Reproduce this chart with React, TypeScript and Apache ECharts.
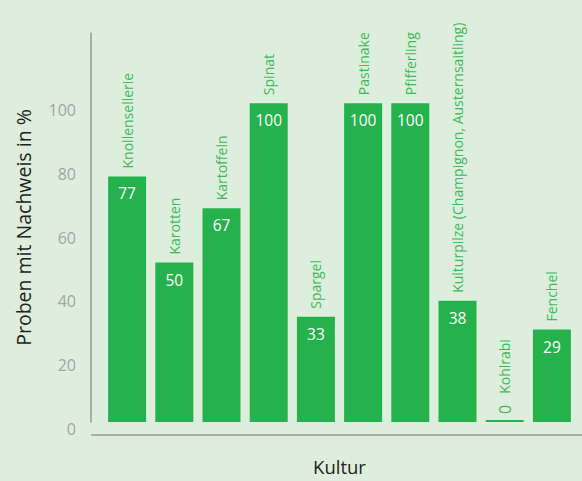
import React, { useEffect, useRef } from "react";
import * as echarts from "echarts";

const categories = [
  "Knollensellerie",
  "Karotten",
  "Kartoffeln",
  "Spinat",
  "Spargel",
  "Pastinake",
  "Pfifferling",
  "Kulturpilze (Champignon, Austernsaitling)",
  "Kohlrabi",
  "Fenchel",
];
const values = [77, 50, 67, 100, 33, 100, 100, 38, 0, 29];
const yTicks = [0, 20, 40, 60, 80, 100];

const FONT = "Open Sans";
const BG = "#deeedc";
const BAR = "#25b24c";
const NAME_GREEN = "#3cba5a";

export default function App() {
  const ref = useRef<HTMLDivElement>(null);
  useEffect(() => {
    if (!ref.current) return;
    const chart = echarts.init(ref.current, undefined, { renderer: "svg" });
    chart.setOption({
      animation: false,
      backgroundColor: BG,
      textStyle: { fontFamily: FONT },
      grid: { left: 103.5, right: 6.5, top: 33, bottom: 58 },
      xAxis: {
        type: "category",
        data: categories,
        axisLine: { show: false },
        axisTick: { show: false },
        axisLabel: { show: false },
        name: "Kultur",
        nameLocation: "middle",
        nameGap: 35,
        nameTextStyle: { fontSize: 18.5, color: "#222", fontFamily: FONT },
      },
      yAxis: {
        type: "value",
        min: 0,
        max: 122,
        interval: 20,
        offset: 12.5,
        axisLine: { show: true, lineStyle: { color: "#999", width: 1.5 } },
        axisTick: { show: false },
        splitLine: { show: false },
        axisLabel: {
          color: "#a0a5a5",
          fontSize: 16,
          margin: 15,
          fontFamily: FONT,
          verticalAlign: "top",
          lineHeight: 14,
          formatter: (v: number) => (yTicks.includes(v) ? String(v) : ""),
        },
        name: "Proben mit Nachweis in %",
        nameLocation: "middle",
        nameGap: 58,
        nameTextStyle: { fontSize: 19.5, color: "#222", fontFamily: FONT },
      },
      graphic: [
        {
          type: "line",
          shape: { x1: 91, y1: 435, x2: 582, y2: 435 },
          style: { stroke: "#999", lineWidth: 1.5 },
        },
      ],
      series: [
        {
          type: "bar",
          data: values,
          barWidth: 38,
          barMinHeight: 2,
          itemStyle: { color: BAR },
          label: {
            show: true,
            position: "insideTop",
            distance: 9,
            color: "#fff",
            fontSize: 15.5,
            fontFamily: FONT,
            formatter: (p: any) => (p.value === 0 ? "" : String(p.value)),
          },
        },
        {
          type: "bar",
          data: values,
          barWidth: 38,
          barGap: "-100%",
          itemStyle: { color: "rgba(0,0,0,0)" },
          silent: true,
          label: {
            show: true,
            position: "top",
            rotate: 90,
            align: "left",
            verticalAlign: "middle",
            distance: 8,
            color: NAME_GREEN,
            fontSize: 14,
            fontFamily: FONT,
            formatter: (p: any) =>
              p.value === 0 ? "{v|" + p.value + "}{g|}" + p.name : p.name,
            rich: {
              v: { fontSize: 16, color: NAME_GREEN, fontFamily: FONT },
              g: { width: 11 },
            },
          },
        },
      ],
    });
    return () => chart.dispose();
  }, []);
  return (
    <div
      ref={ref}
      style={{ position: "fixed", left: 0, top: 0, width: 582, height: 481, background: BG }}
    />
  );
}
